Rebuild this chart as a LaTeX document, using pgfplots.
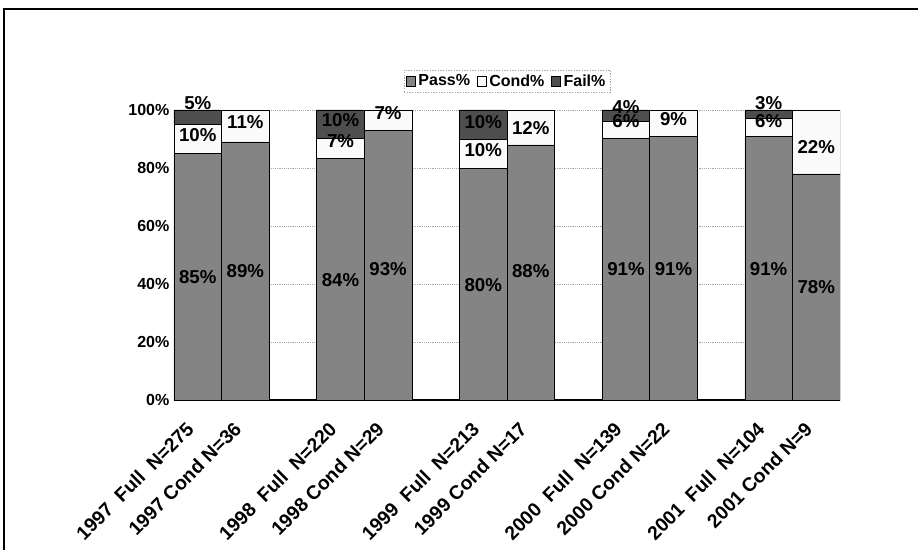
\documentclass[border=0pt]{standalone}
\usepackage{pgfplots}
\pgfplotsset{compat=1.18}
\usepackage{pgfplotstable}
\usepackage{fontspec}
\setmainfont{Liberation Sans}
\newfontfamily\titlefont[FakeStretch=0.82]{Fira Sans}
\definecolor{passc}{RGB}{132,132,132}
\definecolor{condc}{RGB}{250,250,250}
\definecolor{failc}{RGB}{78,78,78}

\pgfplotstableread{
x  p     c    f    pm  cm  fm  pdy    cdy    fdy
0  85    10   5    85  10  5   0      1.4    4.9
1  89    11   0    89  11  0   0      1.2    0
3  83.2  6.9  9.9  84  7   10  -0.1   2.65   1.45
4  93    7    0    93  7   0   -1.5   2.5    0
6  80    10   10   80  10  10  -0.5   1.2    1
7  88    12   0    88  12  0   0.5    -0.3   0
9  90.1  5.9  4.0  91  6   4   0      3.15   3
10 91    9    0    91  9   0   -0.5   1.5    0
12 91    6    3    91  6   3   -0.5   2.2    3.9
13 78    22   0    78  22  0   0      -1.8   0
}\datatable

\begin{document}
\begin{tikzpicture}
\useasboundingbox (-130.5pt,-112.5pt) rectangle (558pt,300pt);
\draw[line width=1.5pt] (-127.5pt,-112.5pt) -- (-127.5pt,293.25pt) -- (558pt,293.25pt);
\begin{axis}[
  at={(0,0)}, anchor=south west,
  scale only axis, width=499.5pt, height=217.5pt,
  ybar stacked, bar width=1,
  xmin=-0.5, xmax=13.5, ymin=0, ymax=100,
  xtick={0,1,3,4,6,7,9,10,12,13},
  xticklabels={1997\ \ Full\ \ N=275,1997 Cond N=36,1998\ \ Full\ \ N=220,1998 Cond N=29,1999\ \ Full\ \ N=213,1999 Cond N=17,2000\ \ Full\ \ N=139,2000 Cond N=22,2001\ \ Full\ \ N=104,2001 Cond N=9},
  x tick label style={rotate=45, anchor=north east, font=\bfseries\fontsize{14.5}{14.5}\selectfont, inner sep=1pt, xshift=-16.6pt, yshift=-3.1pt},
  ytick={0,20,40,60,80,100},
  yticklabel={\pgfmathprintnumber{\tick}\%},
  y tick label style={font=\bfseries\fontsize{12}{12}\selectfont},
  /pgf/number format/assume math mode=true,
  ymajorgrids, grid style={densely dotted, gray!70},
  axis x line*=bottom, axis y line*=left,
  y axis line style={draw=none},
  x axis line style={line width=0.8pt, -},
  major tick length=0pt,
  point meta=explicit,
  nodes near coords={\pgfmathfloatifflags{\pgfplotspointmeta}{0}{}{\pgfmathprintnumber{\pgfplotspointmeta}\%}},
  every node near coord/.append style={font=\bfseries\fontsize{14}{14}\selectfont, anchor=center, inner sep=0pt, shift={(axis direction cs:0,\dy)}},
  legend columns=-1,
  legend style={at={(0.5,1)}, anchor=south, yshift=12.75pt, draw=gray!70, dash pattern=on 1pt off 1pt, font=\bfseries\fontsize{12}{12}\selectfont, inner sep=1.5pt, /tikz/every even column/.append style={column sep=3pt}},
  legend image code/.code={\draw[#1, solid, draw=black, line width=0.4pt] (0pt,-3.5pt) rectangle (7pt,3.5pt);},
]
\addplot[fill=passc, draw=black, visualization depends on={\thisrow{pdy}\as\dy}] table[x=x, y=p, meta=pm]{\datatable};
\addplot[fill=condc, draw=black, visualization depends on={\thisrow{cdy}\as\dy}] table[x=x, y=c, meta=cm]{\datatable};
\addplot[fill=failc, draw=black, visualization depends on={\thisrow{fdy}\as\dy}] table[x=x, y=f, meta=fm]{\datatable};
\legend{Pass\%, Cond\%, Fail\%}
\node[font=\titlefont\fontsize{15.5}{15.5}\selectfont, anchor=base] at (rel axis cs:0.427,1) [yshift=53pt] {Diagnostic Neuroradiology CAQ: Full Exam vs. Condition Exam};
\end{axis}
\end{tikzpicture}
\end{document}
